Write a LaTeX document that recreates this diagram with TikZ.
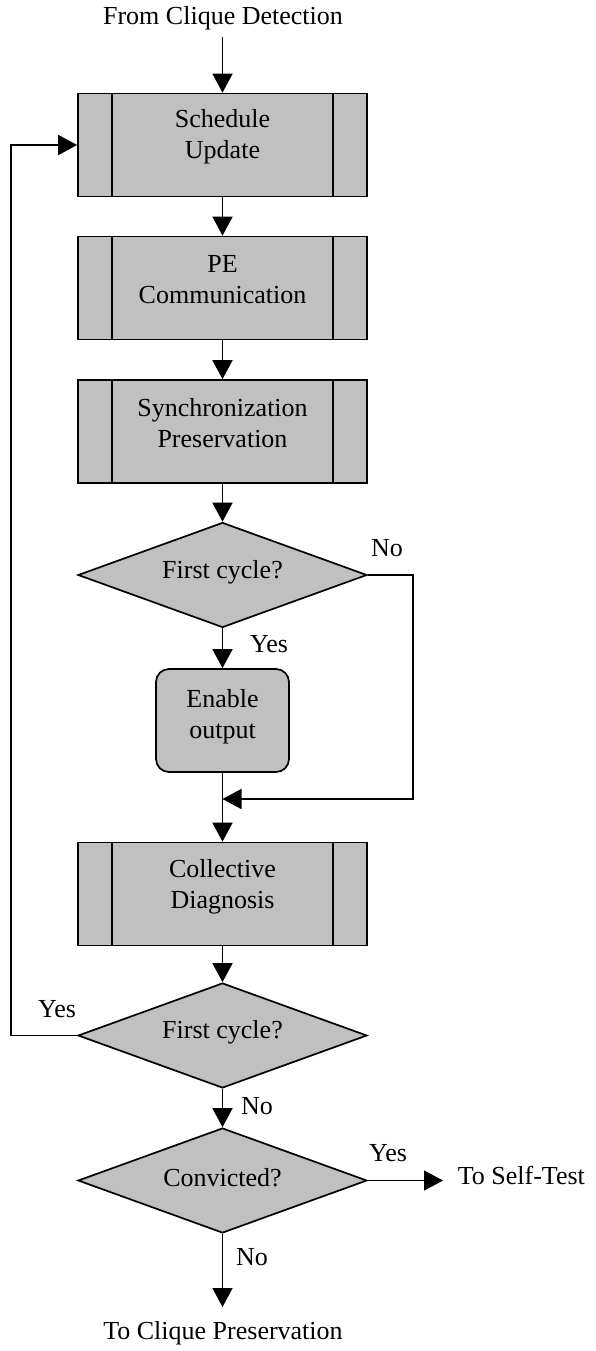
\documentclass[tikz,border=0pt]{standalone}
\usepackage{fontspec}
\setmainfont{Liberation Serif}
\usetikzlibrary{shapes.geometric,arrows.meta}
\definecolor{boxgray}{RGB}{192,192,192}
\begin{document}
\begin{tikzpicture}[x=1pt,y=-1pt,
  font=\fontsize{26}{31}\selectfont,
  line width=1.7pt,
  arr/.style={-{Triangle[length=19pt,width=20pt]}},
  procbox/.style={draw, fill=boxgray, rectangle, minimum width=289pt,
    minimum height=103pt, inner sep=0pt},
  roundbox/.style={draw, fill=boxgray, rectangle, rounded corners=13pt,
    minimum width=133pt, minimum height=103pt, inner sep=0pt},
  decision/.style={draw, fill=boxgray, diamond, minimum width=289pt,
    minimum height=105pt, inner sep=0pt},
  boxtext/.style={align=center, inner sep=0pt},
  lbl/.style={anchor=base, inner sep=0pt}]
\useasboundingbox (0,0) rectangle (595,1351);

% incoming entry
\node[lbl] (src) at (223,25) {From Clique Detection};
\coordinate (srcEnd) at (222.5,37);

% predefined-process boxes
\node[procbox] (b1) at (222.5,145) {};
\node[boxtext] (b1t) at ([yshift=8pt]b1.center) {Schedule\\Update};
\node[procbox] (b2) at (222.5,288) {};
\node[boxtext] (b2t) at ([yshift=8pt]b2.center) {PE\\Communication};
\node[procbox] (b3) at (222.5,431.5) {};
\node[boxtext] (b3t) at ([yshift=8pt]b3.center) {Synchronization\\Preservation};

% first decision and optional step
\node[decision] (d1) at (222.5,575) {};
\node[boxtext] (d1t) at ([yshift=3pt]d1.center) {First cycle?};
\node[roundbox] (en) at (222.5,720.5) {};
\node[boxtext] (ent) at ([yshift=4pt]en.center) {Enable\\output};
\coordinate (merge) at (222.5,799);

\node[procbox] (cd) at (222.5,894) {};
\node[boxtext] (cdt) at ([yshift=7pt]cd.center) {Collective\\Diagnosis};

% second and third decisions
\node[decision] (d2) at (222.5,1035.5) {};
\node[boxtext] (d2t) at ([yshift=3pt]d2.center) {First cycle?};
\node[decision] (d3) at (222.5,1180.5) {};
\node[boxtext] (d3t) at ([yshift=3pt]d3.center) {Convicted?};

% exits
\coordinate (stEnd) at (443,1180.5);
\node[anchor=base west, inner sep=0pt] (st) at (457,1184) {To Self-Test};
\coordinate (cpEnd) at (222.5,1307);
\node[lbl] (cp) at (223,1339) {To Clique Preservation};

% side bars of the process boxes
\foreach \n in {b1,b2,b3,cd} {
  \draw ([xshift=35pt]\n.north west) -- ([xshift=35pt]\n.south west);
  \draw ([xshift=-35pt]\n.north east) -- ([xshift=-35pt]\n.south east);
}

% connectors
\draw[arr] (srcEnd) -- (b1.north);
\draw[arr] (b1.south) -- (b2.north);
\draw[arr] (b2.south) -- (b3.north);
\draw[arr] (b3.south) -- (d1.north);
\draw[arr] (d1.south) -- (en.north);
\draw[arr] (d1.east) -- ++(45,0) |- (merge);
\draw[arr] (en.south) -- (cd.north);
\draw[arr] (cd.south) -- (d2.north);
\draw[arr] (d2.west) -- ++(-66,0) |- (b1.west);
\draw[arr] (d2.south) -- (d3.north);
\draw[arr] (d3.east) -- (stEnd);
\draw[arr] (d3.south) -- (cpEnd);

% branch labels
\node[lbl] (no1) at (387,556) {No};
\node[lbl] (yes1) at (269,652) {Yes};
\node[lbl] (yes2) at (57,1017) {Yes};
\node[lbl] (no2) at (257,1114) {No};
\node[lbl] (yes3) at (388,1161) {Yes};
\node[lbl] (no3) at (252,1265) {No};
\end{tikzpicture}
\end{document}
